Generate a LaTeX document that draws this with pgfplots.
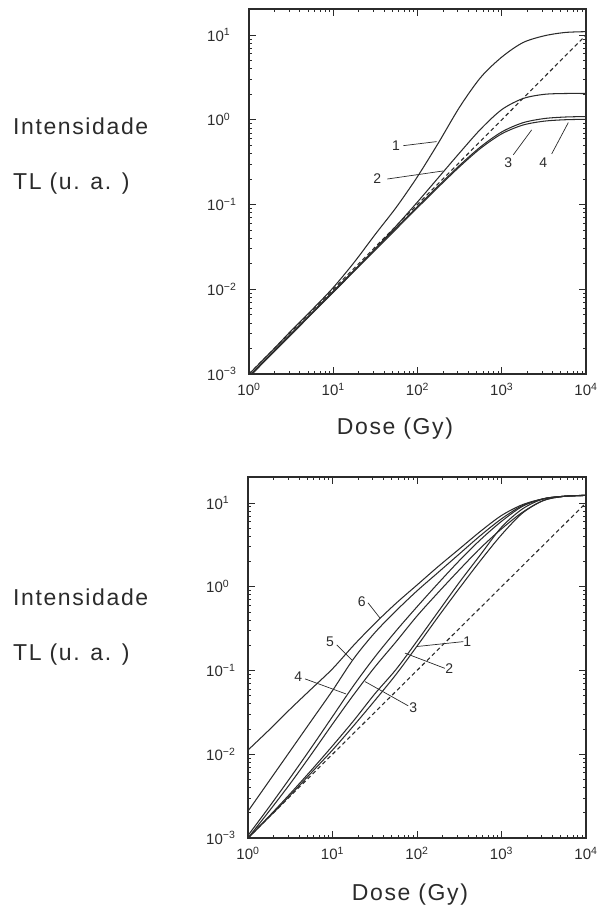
\documentclass[border=0pt]{standalone}
\usepackage{pgfplots}
\pgfplotsset{compat=1.18}
\usepackage{fontspec}
\setmainfont{Liberation Sans}
\newfontfamily\lblfont[LetterSpace=7]{Liberation Sans}
\definecolor{ink}{HTML}{2B2B2B}
\pgfplotsset{
  tlstyle/.style={
    scale only axis, xmin=1, xmax=10000, ymin=1e-3,
    axis line style={line width=1.1pt, ink},
    tick style={ink, line width=0.7pt},
    major tick length=7pt, minor tick length=3.5pt,
    tick align=inside,
    xtick={1,10,100,1000,10000},
    xticklabels={10\textsuperscript{0},10\textsuperscript{1},10\textsuperscript{2},10\textsuperscript{3},10\textsuperscript{4}},
    ytick={0.001,0.01,0.1,1,10},
    yticklabels={10\textsuperscript{−3},10\textsuperscript{−2},10\textsuperscript{−1},10\textsuperscript{0},10\textsuperscript{1}},
    tick label style={font=\fontsize{15}{17}\selectfont, text=ink},
    yticklabel style={anchor=west, inner sep=0pt, xshift=-42pt},
    xticklabel style={inner sep=0pt, yshift=-9pt},
    no markers,
    cycle list={{ink, solid}},
  },
  curve/.style={ink, solid, line width=1.05pt, smooth, no markers},
  dashedline/.style={ink, line width=1.1pt, dash pattern=on 4pt off 3pt, no markers},
}
\tikzset{
  ann/.style={font=\fontsize{14}{16}\selectfont, text=ink, inner sep=0pt},
  pointer/.style={ink, line width=0.7pt},
}

\begin{document}
\begin{tikzpicture}[x=1pt,y=1pt]
\useasboundingbox (0,0) rectangle (598,910);

% ---------------- top panel ----------------
\begin{loglogaxis}[tlstyle, at={(249pt,536pt)}, anchor=south west, width=337pt, height=365pt, ymax=20.3]
\addplot[dashedline] coordinates {(1,0.001) (10000,10)};
% curve 1
\addplot[curve] coordinates {(1,0.001) (1.778,0.001778) (3.162,0.003236) (5.623,0.005754) (10,0.01047) (17.78,0.02089) (31.62,0.04467) (56.23,0.09333) (100,0.2138) (177.8,0.5370) (316.2,1.413) (562.3,3.162) (1000,5.495) (1778,8.128) (3162,9.772) (5623,10.72) (10000,10.96)};
% curve 2
\addplot[curve] coordinates {(1,0.000933) (3.162,0.002951) (10,0.009333) (17.78,0.01660) (31.62,0.03020) (56.23,0.05623) (100,0.1072) (177.8,0.2089) (316.2,0.4074) (562.3,0.7762) (1000,1.318) (1778,1.778) (3162,1.995) (5623,2.042) (10000,2.042)};
% curve 3
\addplot[curve] coordinates {(1,0.00095) (3.162,0.003004) (10,0.0095) (17.78,0.01689) (31.62,0.03002) (56.23,0.05336) (100,0.09465) (177.8,0.1669) (316.2,0.2898) (562.3,0.4805) (1000,0.719) (1778,0.9218) (3162,1.033) (5623,1.0775) (10000,1.0927)};
% curve 4
\addplot[curve] coordinates {(1,0.00092) (3.162,0.002909) (10,0.0092) (17.78,0.01636) (31.62,0.02909) (56.23,0.05166) (100,0.09163) (177.8,0.1615) (316.2,0.2797) (562.3,0.4613) (1000,0.6831) (1778,0.8656) (3162,0.9626) (5623,1.0008) (10000,1.0138)};
% annotations
\node[ann] at (axis cs:55.6,0.495) {1};
\draw[pointer] (axis cs:67.8,0.495) -- (axis cs:169,0.553);
\node[ann] at (axis cs:33.3,0.2) {2};
\draw[pointer] (axis cs:43.8,0.2) -- (axis cs:202,0.249);
\node[ann] at (axis cs:1196,0.308) {3};
\draw[pointer] (axis cs:1371,0.386) -- (axis cs:2265,0.76);
\node[ann] at (axis cs:3112,0.308) {4};
\draw[pointer] (axis cs:3917,0.396) -- (axis cs:6166,0.927);
\end{loglogaxis}

% ---------------- bottom panel ----------------
\begin{loglogaxis}[tlstyle, at={(248pt,72pt)}, anchor=south west, width=338pt, height=361pt, ymax=20.4]
\addplot[dashedline] coordinates {(1,0.001) (10000,10)};
% curve 1
\addplot[curve] coordinates {(1,0.001) (1.778,0.001778) (3.162,0.003236) (5.623,0.006026) (10,0.01122) (17.78,0.02188) (31.62,0.04365) (56.23,0.08913) (100,0.1950) (177.8,0.4365) (316.2,0.9550) (562.3,2.042) (1000,4.169) (1778,7.586) (3162,10.72) (5623,12.02) (10000,12.30)};
% curve 2
\addplot[curve] coordinates {(1,0.001) (1.778,0.00182) (3.162,0.003388) (5.623,0.006457) (10,0.01259) (17.78,0.02512) (31.62,0.05248) (56.23,0.1023) (100,0.2239) (177.8,0.5012) (316.2,1.122) (562.3,2.399) (1000,5.129) (1778,8.511) (3162,11.22) (5623,12.02) (10000,12.30)};
% curve 3
\addplot[curve] coordinates {(1,0.001) (1.778,0.002089) (3.162,0.004467) (5.623,0.01) (10,0.02291) (17.78,0.05129) (31.62,0.1096) (56.23,0.2188) (100,0.4467) (177.8,0.8511) (316.2,1.585) (562.3,2.884) (1000,4.898) (1778,7.762) (3162,10.72) (5623,12.02) (10000,12.30)};
% curve 4
\addplot[curve] coordinates {(1,0.001072) (1.778,0.002344) (3.162,0.005248) (5.623,0.01202) (10,0.02818) (17.78,0.06607) (31.62,0.1445) (56.23,0.2951) (100,0.5754) (177.8,1.096) (316.2,2.042) (562.3,3.631) (1000,6.026) (1778,9.120) (3162,11.22) (5623,12.02) (10000,12.30)};
% curve 5
\addplot[curve] coordinates {(1,0.002089) (1.778,0.004786) (3.162,0.01096) (5.623,0.02512) (10,0.05754) (17.78,0.1380) (31.62,0.2818) (56.23,0.5129) (100,0.8913) (177.8,1.479) (316.2,2.455) (562.3,4.074) (1000,6.457) (1778,9.333) (3162,11.22) (5623,12.02) (10000,12.30)};
% curve 6
\addplot[curve] coordinates {(1,0.01122) (1.778,0.01950) (3.162,0.03467) (5.623,0.06026) (10,0.1047) (17.78,0.1995) (31.62,0.3631) (56.23,0.6310) (100,1.047) (177.8,1.738) (316.2,2.818) (562.3,4.571) (1000,7.079) (1778,9.550) (3162,11.22) (5623,12.02) (10000,12.30)};
% annotations
\node[ann] at (axis cs:22.2,0.665) {6};
\draw[pointer] (axis cs:26.3,0.643) -- (axis cs:36.5,0.422);
\node[ann] at (axis cs:9.34,0.22) {5};
\draw[pointer] (axis cs:11.2,0.202) -- (axis cs:16.9,0.134);
\node[ann] at (axis cs:3.94,0.0845) {4};
\draw[pointer] (axis cs:4.73,0.0794) -- (axis cs:14.4,0.0525);
\node[ann] at (axis cs:90.4,0.0355) {3};
\draw[pointer] (axis cs:24.3,0.0736) -- (axis cs:78.9,0.0378);
\node[ann] at (axis cs:241,0.104) {2};
\draw[pointer] (axis cs:72.1,0.161) -- (axis cs:214,0.106);
\node[ann] at (axis cs:394,0.221) {1};
\draw[pointer] (axis cs:99.1,0.193) -- (axis cs:353,0.221);
\end{loglogaxis}

% ---------------- texts ----------------
\begin{scope}[every node/.style={font=\lblfont\fontsize{23}{27}\selectfont, text=ink, inner sep=0pt}]
\node[anchor=base west] at (13,775) {Intensidade};
\node[anchor=base west] at (13,720) {TL (u. a. )};
\node[anchor=base west] at (13,304) {Intensidade};
\node[anchor=base west] at (13,249) {TL (u. a. )};
\node[anchor=base] at (395,475) {Dose (Gy)};
\node[anchor=base] at (410,9.3) {Dose (Gy)};
\end{scope}
\end{tikzpicture}
\end{document}
